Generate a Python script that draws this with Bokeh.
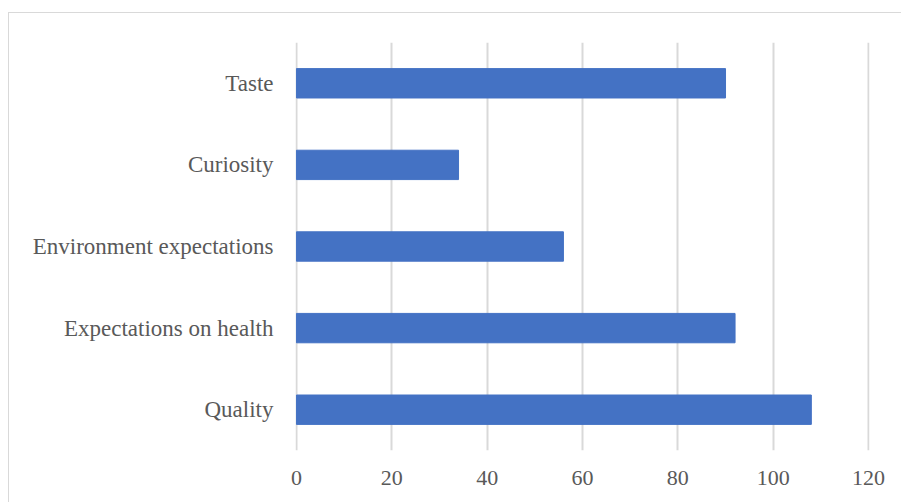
from bokeh.plotting import figure
from bokeh.models import FixedTicker
from bokeh.embed import file_html
from bokeh.resources import INLINE

# Reasons reported, bottom-to-top order of the chart
categories = ["Quality", "Expectations on health", "Environment expectations", "Curiosity", "Taste"]
counts = [108, 92, 56, 34, 90]
x_ticks = [0, 20, 40, 60, 80, 100, 120]

FONT = "'Liberation Serif', serif"
TEXT = "#595959"
GRID = "#d9d9d9"

p = figure(
    y_range=categories,
    x_range=(-0.2, 120.2),
    width=893,
    height=490,
    output_backend="svg",
    toolbar_location=None,
    min_border_left=286,
    min_border_top=29,
    min_border_right=33,
    min_border_bottom=53,
)
p.margin = (12, 0, 0, 8)
p.styles = {"border-left": f"1px solid {GRID}", "border-top": f"1px solid {GRID}"}

p.hbar(y=categories, right=counts, left=0, height=0.36, color="#4472C4")

p.outline_line_color = None
p.ygrid.grid_line_color = None
p.xgrid.grid_line_color = GRID
p.xgrid.grid_line_width = 2
p.xaxis.ticker = FixedTicker(ticks=x_ticks)

for ax in (p.xaxis, p.yaxis):
    ax.axis_line_color = None
    ax.major_tick_line_color = None
    ax.minor_tick_line_color = None
    ax.major_label_text_font = FONT
    ax.major_label_text_color = TEXT

p.xaxis.major_label_text_font_size = "22px"
p.yaxis.major_label_text_font_size = "23px"
p.xaxis.major_label_standoff = 14
p.yaxis.major_label_standoff = 16

open("out.html", "w").write(file_html(p, INLINE))
